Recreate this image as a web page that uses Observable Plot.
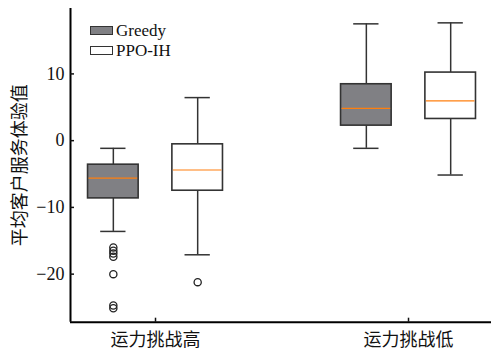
<!DOCTYPE html>
<html><head><meta charset="utf-8">
<script src="https://cdn.jsdelivr.net/npm/d3@7"></script>
<script src="https://cdn.jsdelivr.net/npm/@observablehq/plot@0.6"></script>
<style>
body{margin:0;background:#fff}
#wrap{position:relative;width:491px;height:353px}
.legend{position:absolute;left:90px;top:21px;font-family:"Liberation Serif","Times New Roman","Noto Sans CJK SC",serif;font-size:17px;line-height:19.5px;color:#111}
.row{display:flex;align-items:center;height:19.5px}
.sw{width:21px;height:7px;border:1.5px solid #333;margin-right:3px}
</style></head><body>
<div id="wrap"></div>
<script>
const categories = ["运力挑战高", "运力挑战低"];
const methods = ["Greedy", "PPO-IH"];
const methodFills = ["#808084", "#ffffff"];
const greedyLow = [-13.6, -1.15];
const greedyQ1 = [-8.65, 2.25];
const greedyMedian = [-5.6, 4.85];
const greedyQ3 = [-3.6, 8.45];
const greedyHigh = [-1.15, 17.5];
const greedyOutliers = [[-16.0, -16.5, -16.9, -17.4, -20.0, -24.7, -25.1], []];
const ppoLow = [-17.1, -5.15];
const ppoQ1 = [-7.5, 3.25];
const ppoMedian = [-4.4, 5.95];
const ppoQ3 = [-0.55, 10.2];
const ppoHigh = [6.45, 17.65];
const ppoOutliers = [[-21.2], []];
const yTicks = [-20, -10, 0, 10];
const yLabel = "平均客户服务体验值";

const offsets = [-1 / 6, 1 / 6];
const halfBox = 0.1, halfCap = 0.05;
const xDomain = [-0.336, 1.328];
const yDomain = [-27.2, 19.8];

const stats = [
  [greedyLow, greedyQ1, greedyMedian, greedyQ3, greedyHigh, greedyOutliers],
  [ppoLow, ppoQ1, ppoMedian, ppoQ3, ppoHigh, ppoOutliers]
];
const rows = [];
const outliers = [];
categories.forEach((c, i) => {
  methods.forEach((m, j) => {
    const [lo, q1, med, q3, hi, out] = stats[j];
    const pos = i + offsets[j];
    rows.push({pos, lo: lo[i], q1: q1[i], med: med[i], q3: q3[i], hi: hi[i], fill: methodFills[j]});
    out[i].forEach(v => outliers.push({pos, v}));
  });
});

const ink = "#333";
const font = "'Liberation Serif','Times New Roman','Noto Sans CJK SC',serif";
const chart = Plot.plot({
  width: 491, height: 353,
  marginLeft: 70, marginRight: 0, marginTop: 8, marginBottom: 31.3,
  style: {fontFamily: font, fontSize: "18px", color: "#111", background: "#fff"},
  x: {domain: xDomain, label: null},
  y: {domain: yDomain},
  marks: [
    Plot.ruleX(rows, {x: "pos", y1: "lo", y2: "q1", stroke: ink, strokeWidth: 1.5}),
    Plot.ruleX(rows, {x: "pos", y1: "q3", y2: "hi", stroke: ink, strokeWidth: 1.5}),
    Plot.ruleY(rows, {y: "lo", x1: d => d.pos - halfCap, x2: d => d.pos + halfCap, stroke: ink, strokeWidth: 1.5}),
    Plot.ruleY(rows, {y: "hi", x1: d => d.pos - halfCap, x2: d => d.pos + halfCap, stroke: ink, strokeWidth: 1.5}),
    Plot.rect(rows, {x1: d => d.pos - halfBox, x2: d => d.pos + halfBox, y1: "q1", y2: "q3", fill: "fill", stroke: ink, strokeWidth: 1.6}),
    Plot.ruleY(rows, {y: "med", x1: d => d.pos - halfBox, x2: d => d.pos + halfBox, stroke: "#ff7f0e", strokeWidth: 1.2, insetLeft: 1, insetRight: 1}),
    Plot.dot(outliers, {x: "pos", y: "v", r: 3.6, stroke: "#222", strokeWidth: 1.3, fill: "none"}),
    Plot.ruleX([xDomain[0]], {stroke: "#000", strokeWidth: 2}),
    Plot.ruleY([yDomain[0]], {stroke: "#000", strokeWidth: 2}),
    Plot.axisY({ticks: yTicks, tickSize: -4, tickPadding: 10, strokeWidth: 1.5, fontSize: 18, fontFamily: font,
      label: yLabel, labelAnchor: "center", labelArrow: "none", labelOffset: 57}),
    Plot.axisX({ticks: [0, 1], tickFormat: i => categories[i], tickSize: -4, tickPadding: 15, strokeWidth: 1.5, fontSize: 18, fontFamily: font, label: null})
  ]
});
const wrap = document.getElementById("wrap");
wrap.appendChild(chart);
const leg = document.createElement("div");
leg.className = "legend";
leg.innerHTML = methods.map((m, j) => `<div class="row"><span class="sw" style="background:${methodFills[j]}"></span>${m}</div>`).join("");
wrap.appendChild(leg);
</script>
</body></html>
